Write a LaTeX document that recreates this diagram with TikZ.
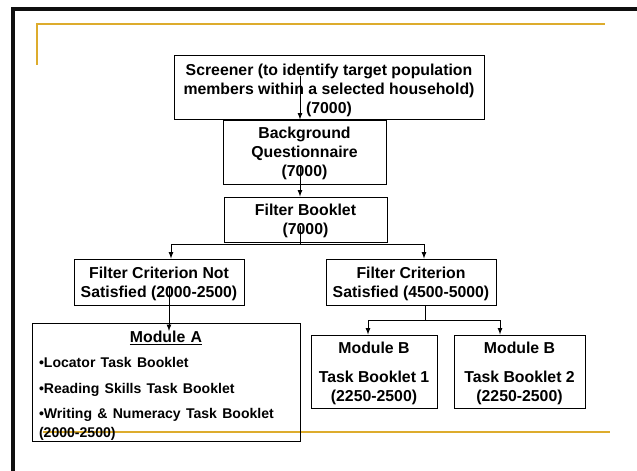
\documentclass[tikz,border=0pt]{standalone}
\usepackage{fontspec}
\setmainfont{Liberation Sans}
\usetikzlibrary{calc}
\definecolor{xgold}{RGB}{221,172,45}
\definecolor{xframe}{RGB}{15,15,15}

\begin{document}
\begin{tikzpicture}[x=0.025cm, y=-0.025cm,
  every node/.style={font=\bfseries\fontsize{11.25}{13.6}\selectfont},
  box/.style={draw, rectangle, line width=0.7pt, inner sep=0pt, align=center},
  flatbox/.style={box, text depth=0pt},
  link/.style={->, >=latex, line width=0.6pt}]
\def \px {0.025cm}
\useasboundingbox (0,0) rectangle (637,471);
% slide frame and rules
\draw[line width=2.2pt, xframe] (13,471) -- (13,9) -- (637,9);
\draw[line width=1.5pt, xgold] (37,65) -- (37,24) -- (605,24);
\draw[line width=1.5pt, xgold] (43,432) -- (610,432);
% boxes
\node[flatbox, minimum width=310*\px, minimum height=64*\px] at (329,87) (scr) {\rule{0pt}{11pt}Screener (to identify target population\\members within a selected household)\\(7000)};
\node[flatbox, minimum width=163*\px, minimum height=64*\px] at (304.5,152) (bq) {Background\\Questionnaire\\(7000)};
\node[flatbox, minimum width=163*\px, minimum height=45*\px] at (305.5,219.5) (fb) {Filter Booklet\\(7000)};
\node[flatbox, minimum width=170*\px, minimum height=46*\px] at (159,282) (fcns) {Filter Criterion Not\\Satisfied (2000-2500)};
\node[flatbox, minimum width=170*\px, minimum height=46*\px] at (411,282) (fcs) {Filter Criterion\\Satisfied (4500-5000)};
\node[box, minimum height=118*\px, text width=254*\px, inner xsep=7*\px, align=left] at (166,382) (moda) {\makebox[\hsize]{\rule{0pt}{13.8pt}\underline{Module A}}\\[5.7pt]%
  \fontsize{10}{12}\selectfont
  •Locator Task Booklet\\[6.4pt]%
  •Reading Skills Task Booklet\\[6pt]%
  •Writing \& Numeracy Task Booklet\\%
  (2000-2500)};
\node[flatbox, minimum width=126*\px, minimum height=73*\px] at (374,371.5) (modb1) {Module B\\[7pt]Task Booklet 1\\(2250-2500)};
\node[flatbox, minimum width=131*\px, minimum height=73*\px] at (519.5,371.5) (modb2) {Module B\\[7pt]Task Booklet 2\\(2250-2500)};
% connectors
\coordinate (scrout) at (300,76);
\coordinate (bqout) at (300,167);
\coordinate (fbout) at (300,226);
\coordinate (fbsplit) at (300,244);
\coordinate (fcnsout) at (169,287);
\coordinate (modain) at (169,331);
\coordinate (fcssplit) at (425,320);
\draw[link] (scrout) -- (scrout |- bq.north);
\draw[link] (bqout) -- (bqout |- fb.north);
\draw[line width=0.6pt] (fbout) -- (fbsplit);
\draw[link] (fbsplit) -| ($(fcns.north)+(12,0)$);
\draw[link] (fbsplit) -| ($(fcs.north)+(13,0)$);
\draw[link] (fcnsout) -- (modain);
\draw[line width=0.6pt] ($(fcs.south)+(14,0)$) -- (fcssplit);
\draw[link] (fcssplit) -| ($(modb1.north)+(-6,0)$);
\draw[link] (fcssplit) -| ($(modb2.north)+(-19.5,0)$);
\end{tikzpicture}
\end{document}
